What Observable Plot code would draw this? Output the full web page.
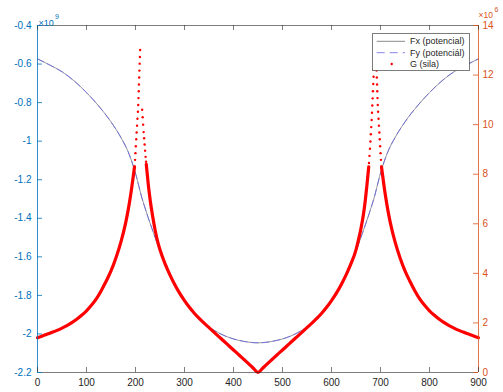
<!DOCTYPE html>
<html><head><meta charset="utf-8">
<script src="https://cdn.jsdelivr.net/npm/d3@7"></script>
<script src="https://cdn.jsdelivr.net/npm/@observablehq/plot@0.6"></script>
<style>body{margin:0;background:#fff;}</style>
</head><body><div id="chart"></div>
<script>
// ---- data ----
// Fx / Fy potential, units of 1e9
const fxX = [0,25,50,75,100,125,150,170,185,195,202,207,212,218,225,237,250,265,280,298,320,346,370,395,420,450,
             480,505,530,554,580,602,620,635,650,663,675,682,688,693,698,705,715,730,750,775,800,825,850,875,900];
const fxV = [-0.573,-0.605,-0.640,-0.688,-0.748,-0.818,-0.900,-0.980,-1.055,-1.125,-1.185,-1.235,-1.285,-1.335,-1.390,-1.478,-1.570,-1.665,-1.745,-1.826,-1.898,-1.956,-1.995,-2.022,-2.038,-2.046,
             -2.038,-2.022,-1.995,-1.956,-1.898,-1.826,-1.745,-1.665,-1.570,-1.478,-1.390,-1.335,-1.285,-1.235,-1.185,-1.125,-1.055,-0.980,-0.900,-0.818,-0.748,-0.688,-0.640,-0.605,-0.573];
const fyV = [-0.573,-0.605,-0.640,-0.688,-0.748,-0.818,-0.900,-0.980,-1.055,-1.125,-1.185,-1.235,-1.285,-1.335,-1.390,-1.478,-1.570,-1.665,-1.745,-1.826,-1.898,-1.956,-1.995,-2.022,-2.038,-2.046,
             -2.038,-2.022,-1.995,-1.956,-1.898,-1.826,-1.745,-1.665,-1.570,-1.478,-1.390,-1.335,-1.285,-1.235,-1.185,-1.125,-1.055,-0.980,-0.900,-0.818,-0.748,-0.688,-0.640,-0.605,-0.573];

// G (sila), units of 1e6 - smooth (dense) parts
const gLineX = [0,10,20,30,40,50,60,70,80,90,100,110,120,130,140,150,160,170,180,185,190,195,198,
                222,226,230,235,240,245,250,260,270,280,290,300,310,320,330,340,350,360,370,380,390,400,410,420,430,440,450,
                460,470,480,490,500,510,520,530,540,550,560,570,580,590,600,610,620,630,640,650,655,660,665,669,672,676,
                702,705,710,715,720,730,740,750,760,770,780,790,800,810,820,830,840,850,860,870,880,890,900];
const gLineV = [1.40,1.47,1.55,1.62,1.70,1.79,1.89,2.01,2.15,2.31,2.49,2.71,2.97,3.30,3.68,4.10,4.62,5.25,6.05,6.55,7.15,7.85,8.30,
                8.40,7.60,6.95,6.30,5.75,5.30,4.95,4.40,3.95,3.55,3.20,2.90,2.63,2.39,2.18,1.99,1.81,1.63,1.45,1.27,1.09,0.91,0.73,0.55,0.37,0.18,0.00,
                0.18,0.37,0.55,0.73,0.91,1.09,1.27,1.45,1.63,1.81,1.99,2.18,2.39,2.63,2.90,3.20,3.55,3.95,4.40,4.95,5.35,5.80,6.35,6.95,7.50,8.30,
                8.30,7.85,7.15,6.55,6.05,5.25,4.62,4.10,3.68,3.30,2.97,2.71,2.49,2.31,2.15,2.01,1.89,1.79,1.70,1.62,1.55,1.47,1.40];
// G (sila) - separated dots near the two peaks
const gDotX = [198.3,199.1,199.9,200.7,201.5,202.3,203.2,204.0,204.9,205.6,206.1,206.6,207.0,207.5,208.0,208.5,209.0,209.5,
               213.6,214.6,215.6,216.6,217.6,218.6,219.6,220.6,221.6,
               676.5,677.5,678.5,679.4,680.3,681.1,681.9,682.6,683.3,684.0,684.6,685.2,685.8,686.3,686.8,
               690.5,691.0,691.5,692.0,692.5,693.0,693.4,693.9,694.4,695.1,696.0,696.8,697.7,698.5,699.3,700.1,700.9,701.7];
const gDotV = [8.30,8.58,8.85,9.13,9.41,9.68,9.96,10.24,10.52,10.79,11.07,11.35,11.62,11.90,12.18,12.46,12.73,13.01,
               10.60,10.30,10.00,9.70,9.45,9.20,8.95,8.70,8.50,
               8.45,8.74,9.03,9.32,9.61,9.90,10.19,10.48,10.77,11.06,11.35,11.64,11.93,12.22,12.51,
               13.01,12.73,12.46,12.18,11.90,11.62,11.35,11.07,10.79,10.52,10.24,9.96,9.68,9.41,9.13,8.85,8.58,8.30];

const xTicks = [0,100,200,300,400,500,600,700,800,900];
const yTicksLeft = [-2.2,-2,-1.8,-1.6,-1.4,-1.2,-1,-0.8,-0.6,-0.4];
const yTicksRight = [0,2,4,6,8,10,12,14];
const legendLabels = ["Fx (potencial)", "Fy (potenciál)", "G (sila)"];

// ---- layout / style ----
const W = 503, H = 392, mL = 37, mR = 25, mT = 25, mB = 20;
const frameW = W - mL - mR, frameH = H - mT - mB;
const yMin = -2.2, yMax = -0.4, gMax = 14;
const toLeft = g => yMin + g * (yMax - yMin) / gMax;   // right-axis value -> left scale
const BLUE = "#0072BD", ORANGE = "#D95319", AX = "#262626";
const FX_COL = "#6b6b6b", FY_COL = "#6464e6", G_COL = "#ff0000";
const FONT = "Liberation Sans, Arial, Helvetica, sans-serif";

const fxData = fxX.map((x, i) => ({x, v: fxV[i]}));
const fyData = fxX.map((x, i) => ({x, v: fyV[i]}));
const gLine = gLineX.map((x, i) => ({x, v: gLineV[i], b: x < 210 ? 0 : x < 690 ? 1 : 2}));
const gDots = gDotX.map((x, i) => ({x, v: gDotV[i]}));

const svg = Plot.plot({
  width: W, height: H,
  marginLeft: mL, marginRight: mR, marginTop: mT, marginBottom: mB,
  style: {fontFamily: FONT, fontSize: "10px", background: "#fff", overflow: "visible"},
  x: {domain: [0, 900]},
  y: {domain: [yMin, yMax]},
  marks: [
    Plot.line(fxData, {x: "x", y: "v", stroke: FX_COL, strokeWidth: 0.7, curve: "monotone-x"}),
    Plot.line(fyData, {x: "x", y: "v", stroke: FY_COL, strokeWidth: 0.8, strokeDasharray: "7,4", curve: "monotone-x"}),
    Plot.line(gLine, {x: "x", y: d => toLeft(d.v), z: "b", stroke: G_COL, strokeWidth: 3.2, curve: "monotone-x", strokeLinecap: "round"}),
    Plot.dot(gDots, {x: "x", y: d => toLeft(d.v), r: 1.2, fill: G_COL, stroke: null}),
    // box lines
    Plot.ruleY([yMax], {stroke: AX, strokeWidth: 0.6}),
    Plot.ruleY([yMin], {stroke: AX, strokeWidth: 0.6}),
    Plot.ruleX([0], {stroke: BLUE, strokeWidth: 0.8}),
    Plot.ruleX([900], {stroke: ORANGE, strokeWidth: 0.8}),
    // inward ticks
    Plot.ruleX(xTicks, {x: d => d, insetTop: frameH - 5, stroke: AX, strokeWidth: 0.6}),
    Plot.ruleX(xTicks, {x: d => d, insetBottom: frameH - 5, stroke: AX, strokeWidth: 0.6}),
    Plot.ruleY(yTicksLeft, {y: d => d, insetRight: frameW - 5, stroke: BLUE, strokeWidth: 0.8}),
    Plot.ruleY(yTicksRight, {y: d => toLeft(d), insetLeft: frameW - 5, stroke: ORANGE, strokeWidth: 0.8}),
    // tick labels
    Plot.axisX({ticks: xTicks, tickSize: 0, tickPadding: 6, fill: AX, label: null, fontSize: 10}),
    Plot.axisY({ticks: yTicksLeft, tickSize: 0, tickPadding: 6, fill: BLUE, label: null, fontSize: 10,
                tickFormat: d => String(Math.round(d * 10) / 10)}),
    Plot.axisY({anchor: "right", ticks: yTicksRight.map(toLeft), tickSize: 0, tickPadding: 4, fill: ORANGE, label: null, fontSize: 10,
                tickFormat: d => String(Math.round((d - yMin) * gMax / (yMax - yMin)))}),
    // exponent labels
    Plot.text(["×10"], {text: d => d, frameAnchor: "top-left", textAnchor: "start", dx: 1, dy: -6, fill: BLUE, fontSize: 9}),
    Plot.text(["9"], {text: d => d, frameAnchor: "top-left", textAnchor: "start", dx: 17.5, dy: -11, fill: BLUE, fontSize: 7}),
    Plot.text(["×10"], {text: d => d, frameAnchor: "top-right", textAnchor: "start", dx: 0, dy: -13.5, fill: ORANGE, fontSize: 8.5}),
    Plot.text(["6"], {text: d => d, frameAnchor: "top-right", textAnchor: "start", dx: 16, dy: -18, fill: ORANGE, fontSize: 7})
  ]
});

// ---- legend (MATLAB-style box, top right inside the axes) ----
const lg = d3.select(svg).append("g")
  .attr("font-family", FONT).attr("font-size", 9).attr("text-anchor", "start");
const bx = 372.7, by = 33.3, bw = 96.6, bh = 37.4;
lg.append("rect").attr("x", bx).attr("y", by).attr("width", bw).attr("height", bh)
  .attr("fill", "#fff").attr("stroke", AX).attr("stroke-width", 0.6);
const rows = [41.3, 52.7, 64];
lg.append("line").attr("x1", 376.7).attr("x2", 405).attr("y1", rows[0]).attr("y2", rows[0]).attr("stroke", FX_COL).attr("stroke-width", 0.8);
lg.append("line").attr("x1", 376.7).attr("x2", 405).attr("y1", rows[1]).attr("y2", rows[1]).attr("stroke", FY_COL).attr("stroke-width", 0.8).attr("stroke-dasharray", "8,5");
lg.append("circle").attr("cx", 391.7).attr("cy", rows[2]).attr("r", 1.2).attr("fill", G_COL);
legendLabels.forEach((t, i) => {
  lg.append("text").attr("x", 410).attr("y", rows[i]).attr("dy", "0.35em")
    .attr("text-anchor", "start").attr("fill", AX).text(t);
});

document.getElementById("chart").appendChild(svg);
</script>
</body></html>
